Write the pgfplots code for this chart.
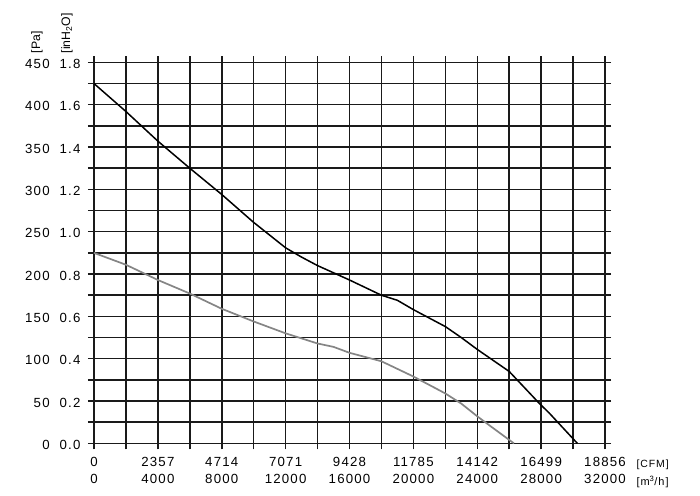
\documentclass[border=0pt]{standalone}
\usepackage{fontspec}
\setmainfont{Liberation Sans}
\newfontfamily\lbl[LetterSpace=9]{Liberation Sans}
\usepackage{pgfplots}
\pgfplotsset{compat=1.18}

\definecolor{gridc}{HTML}{1A1A1A}
\definecolor{curvegray}{HTML}{858585}

\newcommand{\pp}[2]{#1\hspace{10bp}#2}

\begin{document}
\begin{tikzpicture}
  \path[use as bounding box] (-94bp,-52.6bp) rectangle (606bp,443.4bp);
  \begin{axis}[
    at={(0,0)}, anchor=south west,
    scale only axis,
    width=511bp, height=381bp,
    xmin=0, xmax=32000,
    ymin=0, ymax=450,
    scaled x ticks=false, scaled y ticks=false,
    xtick={0,4000,...,32000},
    minor x tick num=1,
    xticklabels={{0\\0},{2357\\4000},{4714\\8000},{7071\\12000},{9428\\16000},
      {11785\\20000},{14142\\24000},{16499\\28000},{18856\\32000}},
    ytick={0,50,...,450},
    minor y tick num=1,
    yticklabels={{\pp{0}{0.0}},{\pp{50}{0.2}},{\pp{100}{0.4}},
      {\pp{150}{0.6}},{\pp{200}{0.8}},{\pp{250}{1.0}},
      {\pp{300}{1.2}},{\pp{350}{1.4}},{\pp{400}{1.6}},
      {\pp{450}{1.8}}},
    xticklabel style={align=center, yshift=-4bp,
      font=\lbl\fontsize{13.3}{17.7}\selectfont},
    yticklabel style={xshift=-4bp, yshift=-1.5bp,
      font=\lbl\fontsize{13.3}{15}\selectfont},
    tick align=outside,
    major tick length=6bp, minor tick length=6bp,
    tick style={gridc, line width=1.5bp},
    grid=both,
    major grid style={gridc, line width=1.5bp},
    minor grid style={gridc, line width=1.5bp},
    axis line style={gridc, line width=1.5bp},
    clip=false,
  ]
    % pressure curve, high speed
    \addplot[black, line width=1.5bp] coordinates {
      (0,425) (2000,392) (4000,357) (6000,325) (8000,294) (10000,261)
      (12000,231) (13000,220) (14000,210) (16000,193) (18000,175)
      (19000,169) (20000,158) (22000,138) (23000,125) (24000,111)
      (26000,85) (26600,73) (27900,47) (28500,36) (30270,0)
    };
    % pressure curve, low speed
    \addplot[curvegray, line width=1.7bp] coordinates {
      (0,225) (2000,211) (4000,193) (6000,177) (8000,159) (10000,144)
      (12000,130) (14000,118) (15000,114) (16000,107) (18000,97)
      (20000,79) (22000,59) (23000,47) (24000,32) (25000,18) (26300,0)
    };
    \node[anchor=base west, font=\lbl\fontsize{10.5}{12}\selectfont]
      at ([xshift=28bp, yshift=-24bp]rel axis cs:1,0) {[CFM]};
    \node[anchor=base west, font=\lbl\fontsize{11}{12}\selectfont]
      at ([xshift=28bp, yshift=-41.6bp]rel axis cs:1,0) {[m\textsuperscript{3}/h]};
    \node[rotate=90, anchor=west, inner sep=0pt, font=\fontsize{12.3}{14}\selectfont]
      at ([xshift=-57bp, yshift=9bp]rel axis cs:0,1) {[Pa]};
    \node[rotate=90, anchor=west, inner sep=0pt, font=\fontsize{12.3}{14}\selectfont]
      at ([xshift=-27bp, yshift=9bp]rel axis cs:0,1) {[inH\textsubscript{2}O]};
  \end{axis}
\end{tikzpicture}
\end{document}
